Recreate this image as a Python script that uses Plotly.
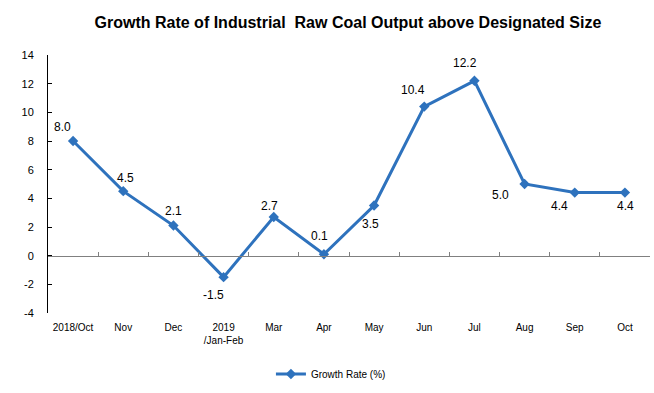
import plotly.graph_objects as go

categories = ["2018/Oct", "Nov", "Dec", "2019<br>/Jan-Feb", "Mar", "Apr", "May",
              "Jun", "Jul", "Aug", "Sep", "Oct"]
growth_rate = [8.0, 4.5, 2.1, -1.5, 2.7, 0.1, 3.5, 10.4, 12.2, 5.0, 4.4, 4.4]
y_ticks = [-4, -2, 0, 2, 4, 6, 8, 10, 12, 14]

# data-label offsets (pixels) relative to each point
label_dx = [-11, 2, 0, -10, -4, -4, -4, -11, -9, -24, -15, 1]
label_dy = [14, 13, 15, -18, 11, 18, -18, 17, 18, -11, -13, -13]

color = "#2E72BD"
font = "Arial, Liberation Sans, sans-serif"

fig = go.Figure()
fig.add_trace(go.Scatter(
    x=categories, y=growth_rate, mode="lines+markers",
    name="Growth Rate (%)",
    line=dict(color=color, width=3),
    marker=dict(symbol="diamond", size=8, color=color),
    xaxis="x", yaxis="y",
))
# invisible trace to carry the zero-line category axis
fig.add_trace(go.Scatter(
    x=categories, y=[0] * len(categories), mode="lines",
    line=dict(width=0), showlegend=False, hoverinfo="skip",
    xaxis="x2", yaxis="y",
))

for c, v, dx, dy in zip(categories, growth_rate, label_dx, label_dy):
    fig.add_annotation(x=c, y=v, xref="x", yref="y", text=f"{v:.1f}",
                       showarrow=False, xshift=dx, yshift=dy,
                       font=dict(size=12, color="black", family=font))

x_range = [-0.5, len(categories) - 0.5]

fig.update_layout(
    width=654, height=393,
    margin=dict(l=48, r=4, t=55, b=80, autoexpand=False),
    paper_bgcolor="white", plot_bgcolor="white",
    font=dict(family=font, color="black"),
    title=dict(text="<b>Growth Rate of Industrial  Raw Coal Output above Designated Size</b>",
               x=0.532, xanchor="center", y=0.944, yanchor="middle",
               font=dict(size=16, color="black", family=font)),
    xaxis=dict(type="category", range=x_range, showline=False, ticks="", showgrid=False,
               automargin=False, zeroline=False, ticklabelstandoff=7,
               tickfont=dict(size=10, family=font)),
    xaxis2=dict(type="category", overlaying="x", matches="x", anchor="free",
                position=4 / 18, showline=True, linecolor="#808080", linewidth=1,
                ticks="inside", tickson="boundaries", ticklen=4, tickcolor="#808080",
                showticklabels=False, showgrid=False, zeroline=False, automargin=False),
    yaxis=dict(range=[-4, 14], tickvals=y_ticks, ticktext=[str(t) for t in y_ticks],
               showline=True, linecolor="black", automargin=False,
               linewidth=1, ticks="inside", ticklen=4, tickcolor="black",
               ticklabelstandoff=11,
               showgrid=False, zeroline=False, tickfont=dict(size=11, family=font)),
    legend=dict(orientation="h", x=0.47, xanchor="center", y=-0.18, yanchor="top",
                font=dict(size=10, family=font)),
    showlegend=True,
)

fig.write_html("out.html", config={"displayModeBar": False},
               post_script="document.body.style.margin='0';document.body.style.overflow='hidden';")
